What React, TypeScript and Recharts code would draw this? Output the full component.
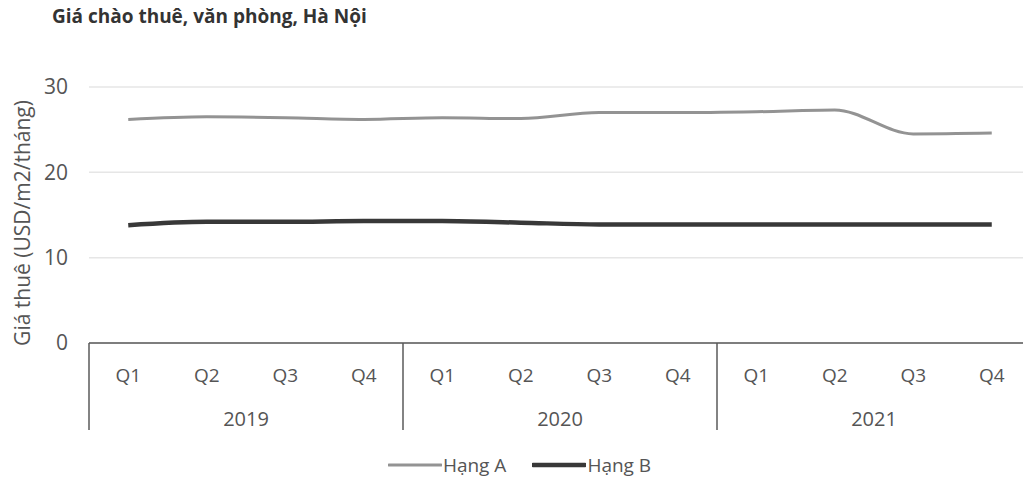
import React from 'react';
import { LineChart, Line, XAxis, YAxis, CartesianGrid, Legend } from 'recharts';

// Quarterly asking rents for Hanoi office space (USD/m2/month)
const years = ['2019', '2020', '2021'];
const quarters = ['Q1', 'Q2', 'Q3', 'Q4'];
const hangA = [26.2, 26.5, 26.4, 26.2, 26.4, 26.3, 27.0, 27.0, 27.1, 27.3, 24.5, 24.6];
const hangB = [13.8, 14.2, 14.2, 14.3, 14.3, 14.1, 13.9, 13.9, 13.9, 13.9, 13.9, 13.9];
const yTicks = [0, 10, 20, 30];

const data = years.flatMap((year, yi) =>
  quarters.map((quarter, qi) => ({
    year,
    quarter,
    a: hangA[yi * 4 + qi],
    b: hangB[yi * 4 + qi],
  }))
);

const FONT = '"Open Sans", "Noto Sans", sans-serif';
const COLOR_A = '#939393';
const COLOR_B = '#383838';

const CHART_W = 1023;
const CHART_H = 474;
const Y_AXIS_W = 81;
// half of one category slot: points sit in the middle of equal slots
const HALF_SLOT = (CHART_W - Y_AXIS_W) / data.length / 2;

// Two-level category tick: quarter on the first row, year centred under each group,
// with vertical separators between the year groups.
const QuarterYearTick = (props: any) => {
  const { x, y, payload, index } = props;
  const half = HALF_SLOT;
  const row = data[index];
  const sep = { stroke: '#5a5a5a', strokeWidth: 1.5 };
  return (
    <g>
      <text x={x} y={y + 32} textAnchor="middle" dominantBaseline="central" fill="#555" fontSize={19} fontFamily={FONT}>
        {row ? row.quarter : payload.value}
      </text>
      {index % 4 === 0 && <line x1={x - half} x2={x - half} y1={y} y2={y + 87} {...sep} />}
      {index === data.length - 1 && <line x1={x + half} x2={x + half} y1={y} y2={y + 87} {...sep} />}
      {index % 4 === 1 && row && (
        <text x={x + half} y={y + 75} textAnchor="middle" dominantBaseline="central" fill="#555" fontSize={20} fontFamily={FONT}>
          {row.year}
        </text>
      )}
    </g>
  );
};

const LegendContent = () => {
  const items = [
    { name: 'Hạng A', color: COLOR_A, w: 3 },
    { name: 'Hạng B', color: COLOR_B, w: 4.5 },
  ];
  return (
    <div style={{ height: 30, display: 'flex', justifyContent: 'center', alignItems: 'center', gap: 26, fontFamily: FONT, fontSize: 19, color: '#555' }}>
      {items.map((it) => (
        <div key={it.name} style={{ display: 'flex', alignItems: 'center' }}>
          <svg width={54} height={12} style={{ marginRight: 1 }}>
            <line x1={1} x2={53} y1={6} y2={6} stroke={it.color} strokeWidth={it.w} strokeLinecap="round" />
          </svg>
          <span>{it.name}</span>
        </div>
      ))}
    </div>
  );
};

export default function App() {
  return (
    <div style={{ position: 'relative', width: CHART_W, height: CHART_H, background: '#fff' }}>
      <div
        style={{
          position: 'absolute',
          left: 44,
          top: -5,
          fontFamily: FONT,
          fontWeight: 700,
          fontSize: 19,
          color: '#333',
          zIndex: 2,
        }}
      >
        Giá chào thuê, văn phòng, Hà Nội
      </div>
      <LineChart width={CHART_W} height={CHART_H} data={data} margin={{ top: 79, right: 0, bottom: 2, left: 0 }}>
        <CartesianGrid vertical={false} stroke="#e6e6e6" strokeWidth={1.5} />
        <XAxis
          dataKey="quarter"
          padding={{ left: HALF_SLOT, right: HALF_SLOT }}
          interval={0}
          height={107}
          tickSize={0}
          tickMargin={0}
          tickLine={false}
          axisLine={{ stroke: '#5a5a5a', strokeWidth: 1.5 }}
          tick={<QuarterYearTick />}
        />
        <YAxis
          domain={[0, 30]}
          ticks={yTicks}
          width={Y_AXIS_W}
          axisLine={false}
          tickLine={false}
          tickSize={0}
          tickMargin={21}
          tick={{ fill: '#555', fontSize: 21, fontFamily: FONT }}
          label={{
            value: 'Giá thuê (USD/m2/tháng)',
            angle: -90,
            position: 'insideLeft',
            offset: 15,
            dy: 8,
            style: { textAnchor: 'middle', fill: '#555', fontSize: 21, fontFamily: FONT },
          }}
        />
        <Legend verticalAlign="bottom" height={30} content={<LegendContent />} />
        <Line type="monotone" dataKey="a" name="Hạng A" stroke={COLOR_A} strokeWidth={3} dot={false} isAnimationActive={false} />
        <Line type="monotone" dataKey="b" name="Hạng B" stroke={COLOR_B} strokeWidth={4.5} dot={false} isAnimationActive={false} />
      </LineChart>
    </div>
  );
}
